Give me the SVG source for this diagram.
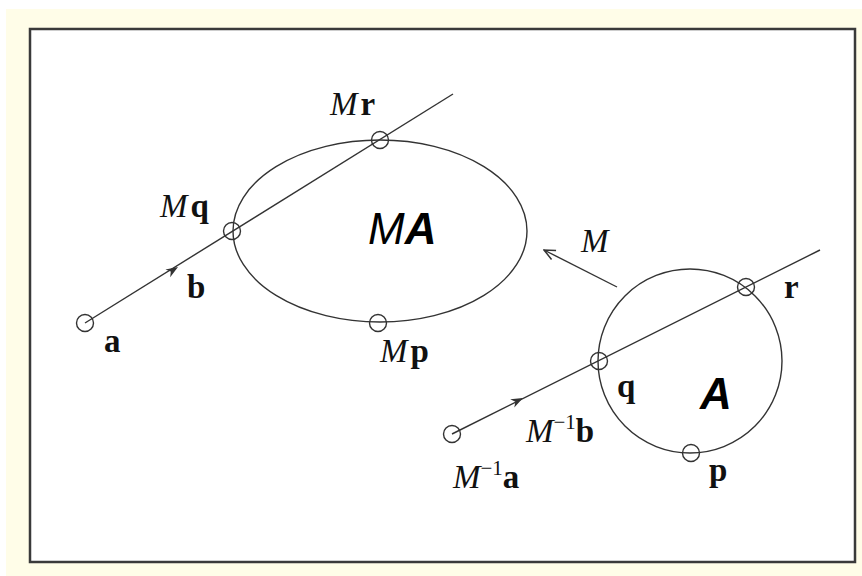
<svg xmlns="http://www.w3.org/2000/svg" xmlns:xlink="http://www.w3.org/1999/xlink" width="862" height="576" viewBox="0 0 862 576">
<style>
.ln{fill:none;stroke:#333;stroke-width:1.4}
.pt{fill:none;stroke:#333;stroke-width:1.4}
.lbl{font-family:"Liberation Serif","Times New Roman",serif;font-size:33px;fill:#111}
.it{font-style:italic}
.bd{font-weight:bold}
.sup{font-size:21px}
.big{font-family:"Liberation Sans",Arial,sans-serif;font-size:44px;font-style:italic;fill:#000}
</style>
<defs>
<path id="ah" d="M0,0 L-12,-4.5 L-8.5,0 L-12,4.5 Z" fill="#333"/>
<marker id="open" markerWidth="16" markerHeight="16" refX="15" refY="6" orient="auto" markerUnits="userSpaceOnUse" viewBox="0 0 16 12">
<path d="M4,1 L15,6 L4,11" fill="none" stroke="#333" stroke-width="1.5"/>
</marker>
</defs>
<rect x="6" y="9" width="856" height="567" fill="#fffde8"/>
<rect x="30" y="29" width="825" height="533" fill="#fff" stroke="#3a3a3a" stroke-width="2.5"/>

<g id="connectors">
<line class="ln" x1="85" y1="323" x2="453" y2="94"/>
<line class="ln" x1="452" y1="434" x2="820" y2="250"/>
<use xlink:href="#ah" transform="translate(178,267) rotate(-31.9)"/>
<use xlink:href="#ah" transform="translate(523,398) rotate(-26.6)"/>
<line class="ln" x1="617" y1="287" x2="544" y2="250" marker-end="url(#open)"/>
</g>

<g id="MA">
<ellipse class="ln" cx="380" cy="231" rx="147" ry="91"/>
<text class="big" x="368" y="244">M<tspan font-weight="bold">A</tspan></text>
</g>
<g id="A">
<circle class="ln" cx="690" cy="361" r="92"/>
<text class="big" x="700" y="409" font-weight="bold" font-size="41">A</text>
</g>

<g id="pt-a"><circle class="pt" cx="85" cy="323" r="8.5"/><text class="lbl bd" x="104" y="352">a</text></g>
<g id="lbl-b"><text class="lbl bd" x="187" y="298">b</text></g>
<g id="pt-Mq"><circle class="pt" cx="232" cy="231" r="8.5"/><text class="lbl" x="160" y="217"><tspan class="it">M</tspan><tspan class="bd" dx="3">q</tspan></text></g>
<g id="pt-Mr"><circle class="pt" cx="380" cy="140" r="8.5"/><text class="lbl" x="330" y="115"><tspan class="it">M</tspan><tspan class="bd" dx="3">r</tspan></text></g>
<g id="pt-Mp"><circle class="pt" cx="378" cy="323" r="8.5"/><text class="lbl" x="380" y="362"><tspan class="it">M</tspan><tspan class="bd" dx="3">p</tspan></text></g>
<g id="lbl-M"><text class="lbl it" x="581" y="252">M</text></g>
<g id="pt-q"><circle class="pt" cx="599" cy="361" r="8.5"/><text class="lbl bd" x="617" y="397">q</text></g>
<g id="pt-r"><circle class="pt" cx="746" cy="287" r="8.5"/><text class="lbl bd" x="784" y="298">r</text></g>
<g id="pt-p"><circle class="pt" cx="691" cy="453" r="8.5"/><text class="lbl bd" x="709" y="481">p</text></g>
<g id="pt-Minva"><circle class="pt" cx="452" cy="434" r="8.5"/><text class="lbl" x="453" y="488"><tspan class="it">M</tspan><tspan class="sup" dy="-13">−1</tspan><tspan class="bd" dy="13">a</tspan></text></g>
<g id="lbl-Minvb"><text class="lbl" x="526" y="442"><tspan class="it">M</tspan><tspan class="sup" dy="-13">−1</tspan><tspan class="bd" dy="13">b</tspan></text></g>
</svg>
